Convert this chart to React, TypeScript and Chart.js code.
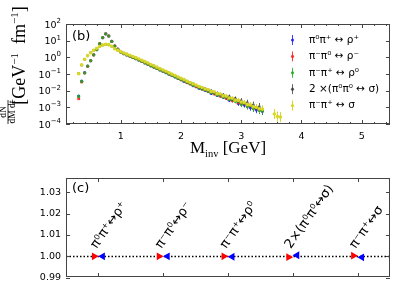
import React, { useEffect, useRef } from "react";
import { Chart, registerables } from "chart.js";
Chart.register(...registerables);

// ---------- panel (b): invariant-mass spectra ----------
const MASS_GEV = [0.30,0.35,0.40,0.45,0.50,0.55,0.60,0.65,0.70,0.75,0.80,0.85,0.90,0.95,
  1.00,1.05,1.10,1.15,1.20,1.25,1.30,1.35,1.40,1.45,1.50,1.55,1.60,1.65,1.70,1.75,1.80,1.85,1.90,1.95,
  2.00,2.05,2.10,2.15,2.20,2.25,2.30,2.35,2.40,2.45,2.50,2.55,2.60,2.65,2.70,2.75,2.80,2.85,2.90,2.95,
  3.00,3.05,3.10,3.15,3.20,3.25,3.30,3.35,3.40,3.45,3.50,3.55,3.60,3.65];

const RHO_PLUS = [0.0048,0.037,0.12,0.30,0.64,1.42,2.9,6.5,15.0,25.5,
  19.0,9.0,4.8,3.1,2.08,1.65,1.40,1.19,0.99,0.82,
  0.68,0.57,0.465,0.385,0.31,0.26,0.215,0.175,0.146,0.12,
  0.098,0.081,0.067,0.054,0.046,0.036,0.031,0.027,0.020,0.018,
  0.0138,0.0135,0.0102,0.0097,0.0068,0.0074,0.0052,0.0056,0.0040,0.0042,
  0.0027,0.0031,0.0026,0.0017,0.0020,0.0014,0.0016,0.00095,0.0012,0.00070,
  0.00085,0.00058,null,null,null,null,null,null];

const RHO_MINUS = [0.0033,0.033,0.115,0.29,0.62,1.40,2.95,6.7,15.3,26.0,
  19.3,9.2,4.85,3.1,2.1,1.67,1.42,1.21,1.0,0.84,
  0.70,0.58,0.475,0.39,0.32,0.265,0.22,0.18,0.15,0.124,
  0.102,0.084,0.070,0.057,0.045,0.040,0.030,0.025,0.023,0.017,
  0.016,0.0122,0.0115,0.0088,0.0083,0.0064,0.0062,0.0047,0.0047,0.0034,
  0.0035,0.0025,0.0028,0.0019,0.0016,0.0017,0.0012,0.0013,0.00088,0.00095,
  0.00068,0.00072,null,null,null,null,null,null];

const RHO_ZERO = [0.0045,0.036,0.118,0.30,0.63,1.41,2.9,6.6,15.2,25.8,
  19.1,9.1,4.8,3.05,2.07,1.64,1.40,1.19,0.99,0.82,
  0.68,0.57,0.46,0.385,0.31,0.26,0.215,0.176,0.146,0.121,
  0.099,0.082,0.068,0.055,0.046,0.038,0.032,0.026,0.021,0.019,
  0.0145,0.0125,0.0112,0.0090,0.0075,0.0072,0.0055,0.0052,0.0041,0.0040,
  0.0030,0.0029,0.0023,0.0022,0.0015,0.0018,0.0011,0.00125,0.00082,0.0010,
  0.00065,0.00060,null,null,null,null,null,null];

const SIGMA_NEUTRAL_X2 = [0.11,0.34,0.74,1.24,1.88,2.6,3.4,4.4,5.4,5.9,
  5.7,4.5,3.25,2.6,2.15,1.8,1.53,1.3,1.1,0.94,
  0.78,0.65,0.54,0.45,0.365,0.305,0.25,0.205,0.17,0.142,
  0.115,0.096,0.079,0.065,0.054,0.044,0.037,0.030,0.026,0.020,
  0.018,0.0145,0.013,0.0105,0.0096,0.0076,0.0072,0.0056,0.0055,0.0041,
  0.0044,0.0031,0.0034,0.0023,0.0025,0.0016,0.0019,0.0012,0.0014,0.00085,
  0.0011,null,null,null,null,null,null,null];

const SIGMA_CHARGED = [0.105,0.355,0.76,1.26,1.9,2.63,3.47,4.47,5.5,6.0,
  5.75,4.57,3.3,2.63,2.19,1.82,1.55,1.32,1.12,0.955,
  0.79,0.66,0.55,0.457,0.37,0.31,0.257,0.209,0.174,0.145,
  0.117,0.098,0.081,0.066,0.055,0.046,0.037,0.031,0.0257,0.0214,
  0.0178,0.0155,0.0125,0.0115,0.0090,0.0085,0.0066,0.0063,0.0049,0.0047,
  0.0036,0.0035,0.0027,0.0026,0.0021,0.0019,0.0015,0.0014,0.0011,0.0010,
  0.00082,0.00078,null,null,null,0.00040,0.00028,0.00026];

// half-width of the error bars, in decades
const ERR_LOG = [0.06,0.04,
  0.02,0.02,0.02,0.02,0.02,0.02,0.02,0.02,0.02,0.02,0.02,0.02,
  0.02,0.02,0.02,0.02,0.02,0.02,0.02,0.02,0.02,0.02,0.02,0.02,0.02,0.02,0.02,0.02,0.02,0.02,0.02,0.02,
  0.05,0.05,0.05,0.05,0.05,0.05,0.06,0.06,0.06,0.06,
  0.09,0.09,0.09,0.1,0.1,0.1,0.12,0.12,0.12,0.14,
  0.16,0.16,0.18,0.18,0.2,0.2,0.22,0.22,
  0.3,0.3,0.3,0.3,0.3,0.3];

const SERIES_LABELS = ["π⁰π⁺ ↔ ρ⁺", "π⁻π⁰ ↔ ρ⁻", "π⁻π⁺ ↔ ρ⁰", "2 ×(π⁰π⁰ ↔ σ)", "π⁻π⁺ ↔ σ"];
const SERIES_VALUES = [RHO_PLUS, RHO_MINUS, RHO_ZERO, SIGMA_NEUTRAL_X2, SIGMA_CHARGED];
const SERIES_COLORS = ["rgba(30,30,255,0.85)", "rgba(255,30,30,0.85)", "rgba(30,170,30,0.85)", "rgba(50,50,50,0.75)", "rgb(215,215,40)"];
const SERIES_RADII = [1.6, 1.6, 1.6, 1.4, 1.8];
const Y_DECADES = [-4, -3, -2, -1, 0, 1, 2];
const X_MAJOR = [1, 2, 3, 4, 5];

// ---------- panel (c): ratios ----------
const CHANNELS = ["π⁰π⁺↔ρ⁺", "π⁻π⁰↔ρ⁻", "π⁻π⁺↔ρ⁰", "2×(π⁰π⁰↔σ)", "π⁻π⁺↔σ"];
const RATIO_FORWARD = [1.0, 1.0, 1.0, 0.9996, 1.0003];
const RATIO_BACKWARD = [1.0, 1.0, 0.9998, 1.0005, 0.9995];
const RATIO_TICKS = [0.99, 1.0, 1.01, 1.02, 1.03];

const SANS = '"DejaVu Sans", sans-serif';
const SERIF = '"Liberation Serif", serif';
const FRAME = "#444";

type Seg = { t: string; size: number; dy?: number; fam?: string };
function rich(ctx: CanvasRenderingContext2D, segs: Seg[], x: number, y: number, align: string, fam: string) {
  let w = 0;
  for (const s of segs) { ctx.font = `${s.size}px ${s.fam || fam}`; w += ctx.measureText(s.t).width; }
  let cx = align === "center" ? x - w / 2 : align === "right" ? x - w : x;
  ctx.textAlign = "left";
  ctx.textBaseline = "alphabetic";
  for (const s of segs) {
    ctx.font = `${s.size}px ${s.fam || fam}`;
    ctx.fillText(s.t, cx, y + (s.dy || 0));
    cx += ctx.measureText(s.t).width;
  }
}

function frame(ctx: CanvasRenderingContext2D, a: any) {
  ctx.strokeStyle = FRAME;
  ctx.lineWidth = 1;
  ctx.strokeRect(Math.round(a.left) + 0.5, Math.round(a.top) + 0.5, Math.round(a.right - a.left) - 1, Math.round(a.bottom - a.top) - 1);
}

function hTick(ctx: CanvasRenderingContext2D, a: any, py: number, len: number) {
  const y = Math.round(py) + 0.5;
  ctx.beginPath();
  ctx.moveTo(a.left, y); ctx.lineTo(a.left + len, y);
  ctx.moveTo(a.right, y); ctx.lineTo(a.right - len, y);
  ctx.stroke();
}
function vTick(ctx: CanvasRenderingContext2D, a: any, px: number, len: number) {
  const x = Math.round(px) + 0.5;
  ctx.beginPath();
  ctx.moveTo(x, a.bottom); ctx.lineTo(x, a.bottom - len);
  ctx.moveTo(x, a.top); ctx.lineTo(x, a.top + len);
  ctx.stroke();
}

const spectraDecor = {
  id: "spectraDecor",
  beforeDatasetsDraw(chart: any) {
    const { ctx, chartArea: a, scales } = chart;
    const x = scales.x, y = scales.y;
    ctx.save();
    ctx.beginPath();
    ctx.rect(a.left, a.top, a.right - a.left, a.bottom - a.top);
    ctx.clip();
    ctx.lineWidth = 1;
    SERIES_VALUES.forEach((vals, si) => {
      ctx.strokeStyle = SERIES_COLORS[si];
      MASS_GEV.forEach((m, i) => {
        const v = vals[i];
        if (v == null) return;
        const f = Math.pow(10, ERR_LOG[i]);
        const px = Math.round(x.getPixelForValue(m)) + 0.5;
        ctx.beginPath();
        ctx.moveTo(px, y.getPixelForValue(v * f));
        ctx.lineTo(px, y.getPixelForValue(v / f));
        ctx.stroke();
      });
    });
    ctx.restore();
  },
  afterDraw(chart: any) {
    const { ctx, chartArea: a, scales } = chart;
    const x = scales.x, y = scales.y;
    ctx.save();
    frame(ctx, a);
    ctx.strokeStyle = FRAME;
    ctx.fillStyle = "#000";
    for (const d of Y_DECADES) {
      const py = y.getPixelForValue(Math.pow(10, d));
      hTick(ctx, a, py, 4);
      const exp = d < 0 ? "−" + Math.abs(d) : String(d);
      rich(ctx, [{ t: "10", size: 9.5 }, { t: exp, size: 7, dy: -4.5 }], a.left - 5, py + 3.5, "right", SANS);
    }
    for (let v = 0.2; v < 5.45; v += 0.2) {
      const r = Math.round(v * 10) / 10;
      if (Math.abs(r - Math.round(r)) < 1e-6) continue;
      vTick(ctx, a, x.getPixelForValue(r), 2);
    }
    for (const v of X_MAJOR) {
      const px = x.getPixelForValue(v);
      vTick(ctx, a, px, 4);
      ctx.font = `9.5px ${SANS}`;
      ctx.textAlign = "center";
      ctx.textBaseline = "alphabetic";
      ctx.fillText(String(v), px, a.bottom + 15);
    }
    // legend
    SERIES_LABELS.forEach((lab, i) => {
      const ly = 40 + i * 16.4;
      ctx.strokeStyle = SERIES_COLORS[i];
      ctx.fillStyle = SERIES_COLORS[i];
      ctx.lineWidth = 1;
      ctx.beginPath(); ctx.moveTo(292.5, ly - 5); ctx.lineTo(292.5, ly + 5); ctx.stroke();
      ctx.beginPath(); ctx.arc(292.5, ly, 1.6, 0, Math.PI * 2); ctx.fill();
      ctx.fillStyle = "#000";
      ctx.font = `10.5px ${SANS}`;
      ctx.textAlign = "left";
      ctx.textBaseline = "middle";
      ctx.fillText(lab, 309, ly);
    });
    ctx.fillStyle = "#000";
    ctx.font = `13px ${SANS}`;
    ctx.textAlign = "left";
    ctx.textBaseline = "middle";
    ctx.fillText("(b)", a.left + 6, 37);
    // x title
    rich(ctx, [{ t: "M", size: 17 }, { t: "inv", size: 10.5, dy: 3.5 }, { t: " [GeV]", size: 17 }], (a.left + a.right) / 2, 153, "center", SERIF);
    // y title
    ctx.save();
    ctx.translate(25, 55.5);
    ctx.rotate(-Math.PI / 2);
    rich(ctx, [{ t: "[GeV", size: 18 }, { t: "−1", size: 11, dy: -7 }, { t: "  fm", size: 18 }, { t: "−1", size: 11, dy: -7 }, { t: "]", size: 18 }], 0, 0, "center", SERIF);
    ctx.restore();
    ctx.save();
    ctx.translate(7.5, 112);
    ctx.rotate(-Math.PI / 2);
    rich(ctx, [{ t: "dN", size: 9.5 }], 0, -1.5, "center", SERIF);
    rich(ctx, [{ t: "dM dt", size: 9.5 }], 0, 7, "center", SERIF);
    ctx.strokeStyle = "#000";
    ctx.lineWidth = 0.8;
    ctx.beginPath(); ctx.moveTo(-12, 0.5); ctx.lineTo(12, 0.5); ctx.stroke();
    ctx.restore();
    ctx.restore();
  },
};

const ratioDecor = {
  id: "ratioDecor",
  beforeDatasetsDraw(chart: any) {
    const { ctx, chartArea: a, scales } = chart;
    const py = Math.round(scales.y.getPixelForValue(1.0)) + 0.5;
    ctx.save();
    ctx.strokeStyle = "#000";
    ctx.lineWidth = 1.3;
    ctx.setLineDash([1.5, 2]);
    ctx.beginPath(); ctx.moveTo(a.left, py); ctx.lineTo(a.right, py); ctx.stroke();
    ctx.restore();
  },
  afterDraw(chart: any) {
    const { ctx, chartArea: a, scales } = chart;
    const x = scales.x, y = scales.y;
    ctx.save();
    frame(ctx, a);
    ctx.strokeStyle = FRAME;
    ctx.fillStyle = "#000";
    for (const t of RATIO_TICKS) {
      const py = y.getPixelForValue(t);
      hTick(ctx, a, py, 4);
      ctx.font = `9.5px ${SANS}`;
      ctx.textAlign = "right";
      ctx.textBaseline = "middle";
      ctx.fillText(t.toFixed(2), a.left - 5, py);
    }
    const py1 = y.getPixelForValue(1.0);
    CHANNELS.forEach((lab, i) => {
      const px = x.getPixelForValue(i);
      vTick(ctx, a, px, 4);
      ctx.save();
      ctx.translate(px - 2, py1 - 7);
      ctx.rotate(-55 * Math.PI / 180);
      ctx.font = `13px ${SANS}`;
      ctx.textAlign = "left";
      ctx.textBaseline = "alphabetic";
      ctx.fillStyle = "#000";
      ctx.fillText(lab, 0, 0);
      ctx.restore();
    });
    ctx.font = `13px ${SANS}`;
    ctx.textAlign = "left";
    ctx.textBaseline = "middle";
    ctx.fillText("(c)", a.left + 6, a.top + 11);
    ctx.save();
    ctx.translate(16, 225);
    ctx.rotate(-Math.PI / 2);
    rich(ctx, [
      { t: "N", size: 17 }, { t: "react", size: 9.5, dy: 3.5 }, { t: "/⟨N", size: 17 },
      { t: "isospin group", size: 9.5, dy: 3.5 }, { t: "⟩", size: 17 },
    ], 0, 0, "center", SERIF);
    ctx.restore();
    ctx.restore();
  },
};

export default function App() {
  const topRef = useRef<HTMLCanvasElement>(null);
  const botRef = useRef<HTMLCanvasElement>(null);
  useEffect(() => {
    const order = [4, 3, 2, 1, 0];
    const top = new Chart(topRef.current!, {
      type: "scatter",
      data: {
        datasets: SERIES_VALUES.map((vals, si) => ({
          label: SERIES_LABELS[si],
          data: MASS_GEV.map((m, i) => (vals[i] == null ? null : { x: m, y: vals[i] })).filter(Boolean) as any,
          pointRadius: SERIES_RADII[si],
          pointBorderWidth: 0,
          pointBackgroundColor: SERIES_COLORS[si],
          order: order[si],
        })),
      },
      options: {
        responsive: false,
        animation: false,
        layout: { padding: { left: 66, top: 24, right: 9, bottom: 41 } },
        scales: {
          x: { type: "linear", min: 0.09, max: 5.47, display: false },
          y: { type: "logarithmic", min: 1e-4, max: 100, display: false },
        },
        plugins: { legend: { display: false }, tooltip: { enabled: false } },
      },
      plugins: [spectraDecor],
    });
    const bot = new Chart(botRef.current!, {
      type: "scatter",
      data: {
        datasets: [
          {
            label: "forward",
            data: RATIO_FORWARD.map((v, i) => ({ x: i - 0.065, y: v })),
            pointStyle: "triangle",
            pointRotation: 90,
            pointRadius: 4.5,
            pointBorderWidth: 0,
            pointBackgroundColor: "#ff0000",
          },
          {
            label: "backward",
            data: RATIO_BACKWARD.map((v, i) => ({ x: i + 0.065, y: v })),
            pointStyle: "triangle",
            pointRotation: -90,
            pointRadius: 4.5,
            pointBorderWidth: 0,
            pointBackgroundColor: "#0000ff",
          },
        ] as any,
      },
      options: {
        responsive: false,
        animation: false,
        layout: { padding: { left: 66, top: 28, right: 9, bottom: 22 } },
        scales: {
          x: { type: "linear", min: -0.5, max: 4.5, display: false },
          y: { type: "linear", min: 0.9903, max: 1.0367, display: false },
        },
        plugins: { legend: { display: false }, tooltip: { enabled: false } },
      },
      plugins: [ratioDecor],
    });
    return () => { top.destroy(); bot.destroy(); };
  }, []);
  return (
    <div style={{ position: "fixed", left: 0, top: 0, width: 399, height: 299, background: "#fff" }}>
      <canvas ref={topRef} width={399} height={165} style={{ position: "absolute", left: 0, top: 0, width: 399, height: 165 }} />
      <canvas ref={botRef} width={399} height={149} style={{ position: "absolute", left: 0, top: 150, width: 399, height: 149 }} />
    </div>
  );
}
